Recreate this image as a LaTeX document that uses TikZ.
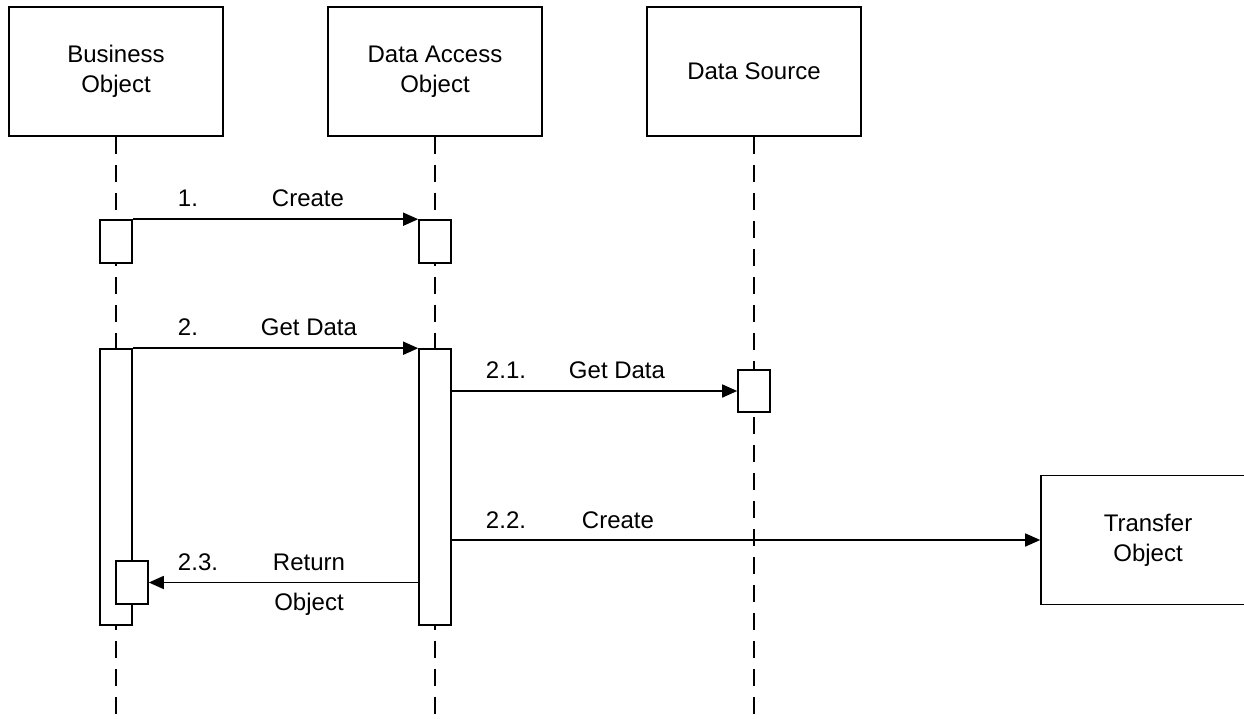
\documentclass[tikz,border=0pt]{standalone}
\usepackage{fontspec}
\setmainfont{Liberation Sans}
\usetikzlibrary{arrows.meta}
\begin{document}
\begin{tikzpicture}[x=1pt,y=-1pt,
  obj/.style={draw, line width=1.6pt, fill=white, minimum width=214pt, minimum height=129pt, align=center, font=\fontsize{24}{30}\selectfont, inner sep=0},
  act/.style={draw, line width=1.6pt, fill=white, minimum width=32pt, inner sep=0},
  life/.style={line width=1.6pt, dash pattern=on 17pt off 11pt},
  msg/.style={line width=1.6pt, -{Triangle[length=15pt,width=13pt]}},
  lbl/.style={font=\fontsize{24}{30}\selectfont, inner sep=0, anchor=base}]
\useasboundingbox (0,0) rectangle (1244,719);
\clip (0,0) rectangle (1244,719);
% bottom ends of lifelines
\coordinate (boend) at (116,719);
\coordinate (daoend) at (435,719);
\coordinate (dsend) at (754,719);
% objects
\node[obj] (bo) at (116,71.5) {Business\\Object};
\node[obj] (dao) at (435,71.5) {Data Access\\Object};
\node[obj] (ds) at (754,71.5) {Data Source};
\node[obj] (to) at (1148,540) {Transfer\\Object};
% lifelines (behind activations)
\draw[life] (bo.south) -- (boend);
\draw[life] (dao.south) -- (daoend);
\draw[life] (ds.south) -- (dsend);
% activations
\node[act, minimum height=43pt] (a1) at (116,241.5) {};
\node[act, minimum height=43pt] (d1) at (435,241.5) {};
\node[act, minimum height=276pt] (a2) at (116,487) {};
\node[act, minimum height=276pt] (d2) at (435,487) {};
\node[act, minimum height=42pt] (s1) at (754,391) {};
\node[act, minimum height=43pt] (r1) at (132,582.5) {};
% messages
\draw[msg] (a1.north east) -- (d1.north west);
\draw[msg] (a2.north east) -- (d2.north west);
\draw[msg] (d2.east |- s1.west) -- (s1.west);
\draw[msg] (d2.east |- to.west) -- (to.west);
\draw[msg] (d2.west |- r1.east) -- (r1.east);
% labels
\node[lbl] (l1n) at (188,207) {1.};
\node[lbl] (l1t) at (308,207) {Create};
\node[lbl] (l2n) at (188,335) {2.};
\node[lbl] (l2t) at (309,335) {Get Data};
\node[lbl] (l21n) at (506,378) {2.1.};
\node[lbl] (l21t) at (617,378) {Get Data};
\node[lbl] (l22n) at (506,528) {2.2.};
\node[lbl] (l22t) at (618,528) {Create};
\node[lbl] (l23n) at (198,570) {2.3.};
\node[lbl] (l23t) at (309,570) {Return};
\node[lbl] (l23u) at (309,610) {Object};
\end{tikzpicture}
\end{document}
